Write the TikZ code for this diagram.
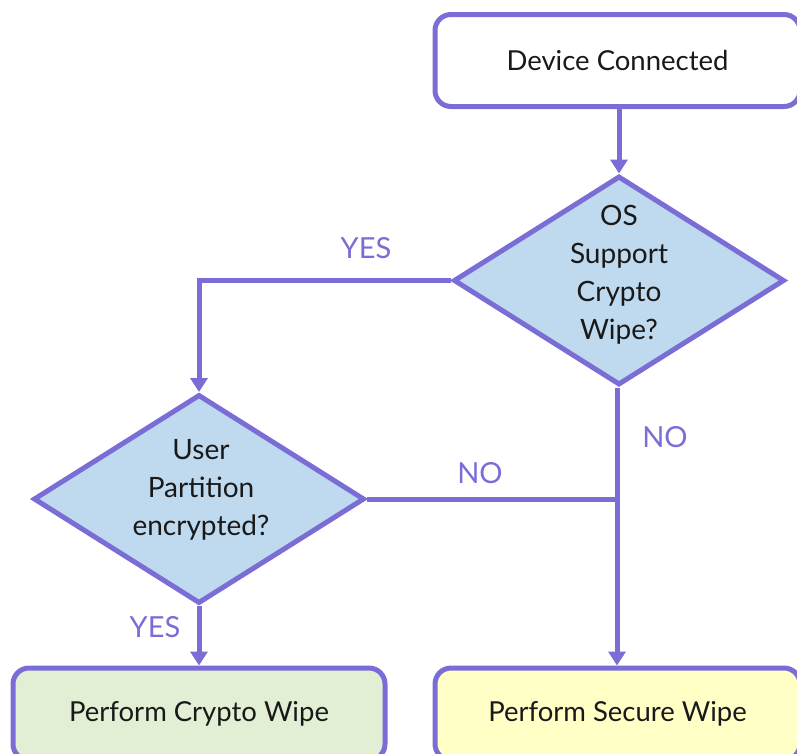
\documentclass[tikz,border=0pt]{standalone}
\usepackage{fontspec}
\setmainfont{Lato}
\usetikzlibrary{shapes.geometric,arrows.meta}
\definecolor{edgec}{RGB}{122,110,214}
\definecolor{dfill}{RGB}{191,218,239}
\definecolor{gfill}{RGB}{227,239,213}
\definecolor{yfill}{RGB}{255,255,198}
\definecolor{txtc}{RGB}{25,25,25}
\begin{document}
\begin{tikzpicture}[x=1pt,y=-1pt,
  box/.style={draw=edgec, line width=5pt, rounded corners=16pt, inner sep=0pt,
    minimum height=92pt, text=txtc, font=\fontsize{27.5}{32}\selectfont},
  dia/.style={diamond, draw=edgec, fill=dfill, line width=5pt, inner sep=0pt,
    minimum width=331pt, minimum height=209pt},
  diatext/.style={align=center, text=txtc, font=\fontsize{28}{38}\selectfont},
  conn/.style={draw=edgec, line width=5pt, -{Triangle[length=14pt,width=17pt]}},
  plain/.style={draw=edgec, line width=5pt},
  lbl/.style={text=edgec, font=\fontsize{29}{32}\selectfont}]
\useasboundingbox (0,0) rectangle (797,753);
\clip (0,0) rectangle (797,753);

\node[box, fill=white, minimum width=365pt] (dc) at (617.5,60.5) {\raisebox{-3pt}{Device Connected}};
\node[dia] (d1) at (619,280.5) {};
\node[diatext] (d1t) at (619,275) {OS\\Support\\Crypto\\Wipe?};
\node[dia] (d2) at (199,499) {};
\node[diatext] (d2t) at (201,490) {User\\Partition\\encrypted?};
\node[box, fill=gfill, minimum width=372pt] (cw) at (199,714) {Perform Crypto Wipe};
\node[box, fill=yfill, minimum width=365pt] (sw) at (617.5,714) {Perform Secure Wipe};

\draw[conn] (d1.north |- dc.south) -- (d1.north);
\draw[conn] (d1.west) -| (d2.north);
\coordinate (j) at (617,499);
\draw[conn] (j |- d1.south) -- (j |- sw.north);
\draw[plain] (d2.east) -- (j);
\draw[conn] (d2.south) -- (cw.north);

\node[lbl] (l1) at (366,248) {YES};
\node[lbl] (l2) at (665,437) {NO};
\node[lbl] (l3) at (480,473) {NO};
\node[lbl] (l4) at (155,627) {YES};
\end{tikzpicture}
\end{document}
